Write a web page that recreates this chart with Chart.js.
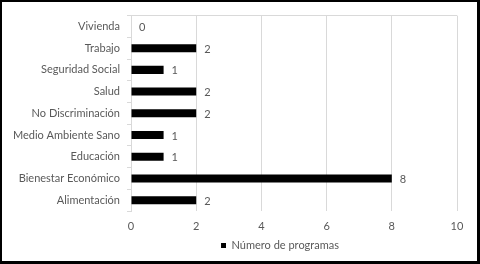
<!DOCTYPE html>
<html>
<head>
<meta charset="utf-8">
<script src="https://cdn.jsdelivr.net/npm/chart.js@4.4.1/dist/chart.umd.min.js"></script>
<style>
  html, body { margin: 0; padding: 0; background: #fff; }
  #frame {
    position: absolute; left: 0; top: 0;
    width: 475px; height: 259px;
    border-style: solid; border-color: #000;
    border-width: 2px 3px 3px 2px;
    background: #fff;
  }
  canvas { display: block; }
</style>
</head>
<body>
<div id="frame"><canvas id="chart" width="475" height="259"></canvas></div>
<script>
// Datos del gráfico
const categorias = ['Vivienda', 'Trabajo', 'Seguridad Social', 'Salud', 'No Discriminación',
                    'Medio Ambiente Sano', 'Educación', 'Bienestar Económico', 'Alimentación'];
const programas = [0, 2, 1, 2, 2, 1, 1, 8, 2];
const serieNombre = 'Número de programas';
const ejeMin = 0, ejeMax = 10, ejePaso = 2;

const FONT = 'Lato, "Open Sans", sans-serif';
const FSIZE = 11;
const TEXT = '#595959';
const GRID = '#d9d9d9';

// etiquetas de valor a la derecha de cada barra
const valueLabels = {
    id: 'valueLabels',
    afterDatasetsDraw(chart) {
        const ctx = chart.ctx;
        const meta = chart.getDatasetMeta(0);
        ctx.save();
        ctx.font = FSIZE + 'px ' + FONT;
        ctx.fillStyle = TEXT;
        ctx.textAlign = 'left';
        ctx.textBaseline = 'middle';
        meta.data.forEach(function(bar, i) {
            ctx.fillText(String(programas[i]), bar.x + 8, bar.y + 1);
        });
        ctx.restore();
    }
};

// la leyenda va un poco a la derecha del centro, como en Excel
const legendShift = {
    id: 'legendShift',
    afterLayout(chart) {
        const lg = chart.legend;
        if (!lg) return;
        lg.left = chart.chartArea.left;
        lg.right = chart.chartArea.right - 28;
    }
};

new Chart(document.getElementById('chart').getContext('2d'), {
    type: 'bar',
    data: {
        labels: categorias,
        datasets: [{
            label: serieNombre,
            data: programas,
            backgroundColor: '#000',
            borderWidth: 0,
            categoryPercentage: 0.37,
            barPercentage: 1
        }]
    },
    options: {
        indexAxis: 'y',
        responsive: false,
        animation: false,
        layout: { padding: { left: 0, top: 13, right: 20, bottom: 0 } },
        plugins: {
            legend: {
                position: 'bottom',
                labels: {
                    font: { family: FONT, size: FSIZE },
                    color: TEXT,
                    usePointStyle: true,
                    pointStyle: 'rect',
                    boxWidth: 5,
                    boxHeight: 5,
                    padding: 0
                }
            },
            tooltip: { enabled: false }
        },
        scales: {
            x: {
                min: ejeMin,
                max: ejeMax,
                ticks: { stepSize: ejePaso, color: TEXT, font: { family: FONT, size: FSIZE }, padding: 9 },
                grid: { color: GRID, drawTicks: false },
                border: { display: false },
                afterFit: function(s) { s.height = 29; }
            },
            y: {
                ticks: { color: TEXT, font: { family: FONT, size: FSIZE }, padding: 7 },
                grid: {
                    offset: true,
                    tickLength: 4,
                    tickColor: GRID,
                    color: function(c) {
                        return (c.index === 0 || c.index === categorias.length) ? GRID : 'rgba(0,0,0,0)';
                    }
                },
                border: { display: true, color: GRID },
                afterFit: function(s) { s.width = 129; }
            }
        }
    },
    plugins: [valueLabels, legendShift]
});
</script>
</body>
</html>
